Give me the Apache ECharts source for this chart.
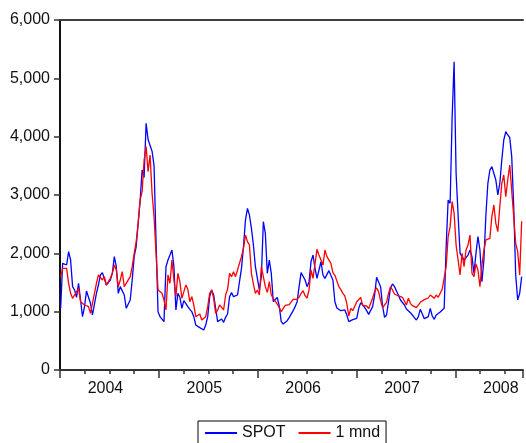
<!DOCTYPE html>
<html><head><meta charset="utf-8">
<script src="https://cdn.jsdelivr.net/npm/echarts@6/dist/echarts.min.js"></script>
<style>html,body{margin:0;padding:0;background:#fff}#c{width:526px;height:443px}</style>
</head><body><div id="c"></div>
<script>
const seriesNames = ['SPOT', '1 mnd'];
const startYear = 2004.0067;   // first observation (early Jan 2004)
const stepYears = 0.0201;      // roughly one week between observations
const yearLabels = [2004, 2005, 2006, 2007, 2008];
const yTicks = [0, 1000, 2000, 3000, 4000, 5000, 6000];

const spot = [
  1057,1829,1857,1800,2029,1886,1429,1371,1246,1486,1200,914,1086,1354,1246,1143,943,914,1314,1457,
  1629,1669,1646,1457,1429,1543,1657,1943,1771,1314,1429,1400,1286,1057,1057,1200,1543,1943,2114,2514,2914,
  3429,3300,4229,3950,3850,3750,3500,2200,1000,914,897,829,1771,1886,1874,2057,1771,1029,1314,1246,
  1057,1189,1211,1086,1040,1000,914,771,743,726,697,686,771,914,1257,1371,1286,1057,
  829,829,874,817,903,960,1257,1326,1257,1240,1286,1514,1743,2114,2571,2771,2657,2429,2143,1771,
  1571,1371,1600,2543,2343,1657,1886,1657,1171,1200,1246,1097,829,789,800,846,897,914,1017,
  1086,1171,1429,1669,1669,1543,1429,1514,1857,1971,1743,1571,1714,1857,1629,1571,1589,1703,1731,1543,
  1171,1063,1046,1017,1029,1029,943,829,857,863,857,886,1057,1154,1114,1069,1017,954,983,
  1086,1286,1589,1600,1429,1097,903,943,1171,1411,1474,1429,1354,1280,1200,1171,1114,1046,1017,983,
  943,897,857,914,1040,960,880,869,914,1057,926,869,943,971,994,983,1057,2114,2914,
  2857,4314,5286,3371,2657,2000,1943,1886,1926,1971,2057,1943,1657,2000,2286,2057,1514,1886,2657,3200,
  3429,3486,3486,3257,3000,3200,3600,3943,4086,4029,3983,3657,2800,1629,1200,1314,1600
];
const mnd1 = [
  1600,1743,1771,1743,1486,1314,1229,1286,1314,1400,1171,1143,1114,1126,1086,971,943,1314,1486,1629,
  1600,1543,1600,1457,1486,1571,1657,1800,1714,1429,1543,1686,1429,1486,1497,1600,1771,2000,2200,2514,2914,
  3057,3600,3829,3400,3686,3029,2629,2000,1371,1354,1314,1200,1029,1629,1486,1886,1543,1257,1657,1514,
  1229,1343,1457,1383,1171,1257,1114,914,943,960,857,829,914,1086,1314,1371,1229,971,
  1029,1114,1074,1029,1286,1383,1657,1600,1686,1600,1611,1829,1943,2086,2314,2200,2143,1657,1474,1314,
  1371,1286,1771,1771,1429,1331,1514,1286,1229,1211,1131,1069,1000,1029,1109,1109,1120,1137,1211,
  1234,1211,1246,1314,1360,1274,1234,1371,1714,1571,1543,2069,1971,1971,1800,2057,1943,1914,1829,1669,
  1623,1611,1429,1377,1314,1269,1143,926,1057,1017,983,1171,1160,1246,1109,1086,1097,1051,1074,
  1234,1343,1411,1343,1189,1069,1074,1160,1314,1429,1371,1303,1274,1269,1246,1246,1246,1114,1229,1143,
  1103,1114,1069,1086,1160,1160,1206,1211,1234,1286,1286,1229,1286,1246,1269,1383,1417,1771,2286,
  2457,2886,2686,2143,1886,1629,2000,1771,2057,2143,2314,1657,1600,1817,1714,1429,1800,2057,2229,2217,
  2257,2629,2829,2514,2371,2800,3200,3343,2971,3257,3514,3486,2629,2171,2029,1629,2550
];

const toPairs = arr => arr.map((v, k) => [startYear + k * stepYears, v]);
const xMin = 2004, xMax = 2008.6834;
const font = 'Liberation Sans, Arial, sans-serif';
const fmtThousands = v => String(v).replace(/\B(?=(\d{3})+(?!\d))/g, ',');

const chart = echarts.init(document.getElementById('c'), null, {renderer: 'canvas'});
chart.setOption({
  animation: false,
  backgroundColor: '#fff',
  textStyle: {fontFamily: font},
  grid: {left: 60, right: 0, top: 20, bottom: 73, containLabel: false},
  legend: {
    data: seriesNames.map(n => ({name: n, icon: 'rect'})),
    left: 198, top: 421, orient: 'horizontal',
    itemWidth: 32, itemHeight: 2, itemGap: 13,
    padding: [4, 6, 4, 7],
    borderColor: '#000', borderWidth: 1,
    textStyle: {fontSize: 16, color: '#111', fontFamily: font},
    itemStyle: {borderWidth: 0}
  },
  xAxis: [
    {
      type: 'value', min: xMin, max: xMax, interval: 0.25, position: 'bottom',
      axisLine: {show: true, onZero: false, lineStyle: {color: '#333', width: 2}},
      axisTick: {show: true, length: 4, lineStyle: {color: '#333', width: 1.5}},
      axisLabel: {
        show: true, fontSize: 16, color: '#111', margin: 11, fontFamily: font,
        padding: [0, 8, 0, 0],
        formatter: v => { const y = Math.floor(v + 1e-9); return (Math.abs(v - y - 0.5) < 1e-6 && yearLabels.includes(y)) ? String(y) : ''; }
      },
      splitLine: {show: false}
    },
    {
      type: 'value', min: xMin, max: xMax, interval: 1, position: 'bottom',
      axisLine: {show: false, onZero: false},
      axisTick: {show: true, length: 8, lineStyle: {color: '#333', width: 1.5}},
      axisLabel: {show: false}, splitLine: {show: false}
    },
    {
      type: 'value', min: xMin, max: xMax, position: 'top',
      axisLine: {show: true, onZero: false, lineStyle: {color: '#404040', width: 2}},
      axisTick: {show: false}, axisLabel: {show: false}, splitLine: {show: false}
    }
  ],
  yAxis: {
    type: 'value', min: yTicks[0], max: yTicks[yTicks.length - 1], interval: 1000,
    axisLine: {show: true, onZero: false, lineStyle: {color: '#111', width: 2}},
    axisTick: {show: true, length: 6, lineStyle: {color: '#333', width: 1.5}},
    axisLabel: {fontSize: 16, color: '#111', margin: 10, fontFamily: font, formatter: fmtThousands},
    splitLine: {show: false}
  },
  series: [
    {name: seriesNames[0], type: 'line', xAxisIndex: 0, data: toPairs(spot), showSymbol: false,
     color: '#0000ff', lineStyle: {color: '#0000ff', width: 1.3}, itemStyle: {color: '#0000ff'}},
    {name: seriesNames[1], type: 'line', xAxisIndex: 0, data: toPairs(mnd1), showSymbol: false,
     color: '#ff0000', lineStyle: {color: '#ff0000', width: 1.3}, itemStyle: {color: '#ff0000'}}
  ]
});
</script></body></html>
